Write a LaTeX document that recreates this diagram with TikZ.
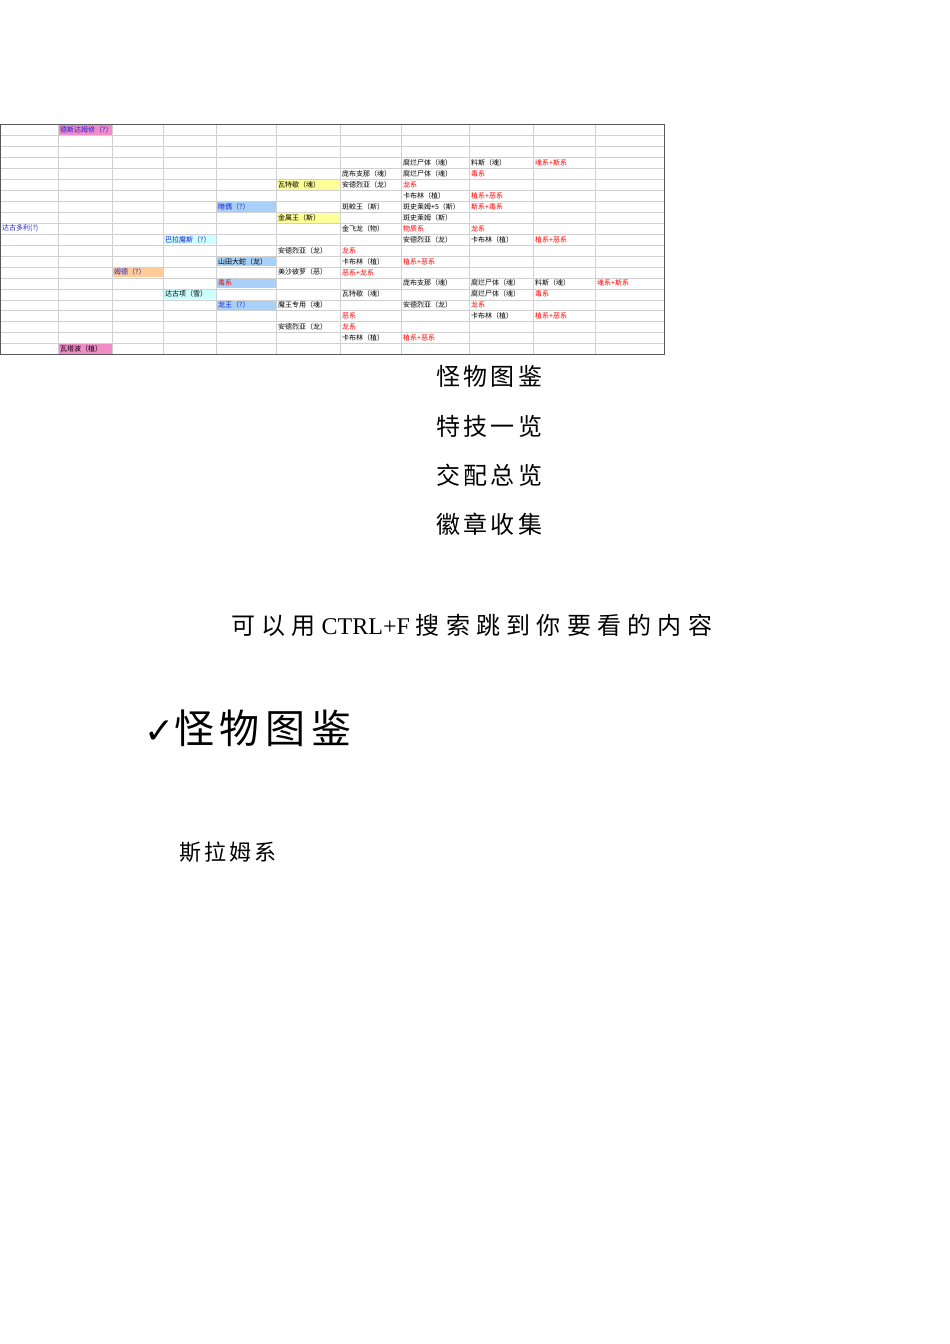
\documentclass[tikz,border=0pt]{standalone}
\usepackage{fontspec}
\newfontfamily\cjk{Noto Sans CJK SC}
\newfontfamily\cjkls[LetterSpace=14]{Noto Sans CJK SC}
\newfontfamily\cjklw[LetterSpace=26]{Noto Sans CJK SC}
\setmainfont{Liberation Serif}
\newfontfamily\djvs{DejaVu Sans}
\definecolor{pk}{HTML}{F08CC8}
\definecolor{lb}{HTML}{A8D0F8}
\definecolor{yl}{HTML}{FFFF99}
\definecolor{cy}{HTML}{CCFFFF}
\definecolor{og}{HTML}{FFCC99}
\definecolor{bt}{HTML}{2020D0}
\definecolor{gl}{HTML}{D0D0D0}
\tikzset{cell/.style={anchor=west,inner sep=1pt,font=\cjk\fontsize{7}{7}\selectfont}}
\newcommand{\cx}[1]{\ifcase#1 0\or58\or112\or163\or216\or276\or340\or401\or469\or533\or595\fi}
\newcommand{\cw}[1]{\ifcase#1 58\or54\or51\or53\or60\or64\or61\or68\or64\or62\or69\fi}
% \cell{row}{col}{text}{textcolor}{bg}
\newcommand{\cell}[5]{%
  \fill[#5] ({\cx{#2}+0.5},{124.5+10.95*#1+0.5}) rectangle ({\cx{#2}+\cw{#2}-0.5},{124.5+10.95*(#1+1)-0.5});
  \node[cell,text=#4] (c#1x#2) at ({\cx{#2}+1},{124.5+10.95*(#1+0.5)}) {#3};}
\begin{document}
\begin{tikzpicture}[x=1pt,y=-1pt]
\useasboundingbox (0,0) rectangle (950,1344);
\fill[white] (0,0) rectangle (950,1344);
\cell{0}{1}{德斯达姆修（?）}{bt}{pk}
\cell{3}{7}{腐烂尸体（魂）}{black}{white}
\cell{3}{8}{料斯（魂）}{black}{white}
\cell{3}{9}{魂系+斯系}{red}{white}
\cell{4}{6}{庞布支那（魂）}{black}{white}
\cell{4}{7}{腐烂尸体（魂）}{black}{white}
\cell{4}{8}{毒系}{red}{white}
\cell{5}{5}{瓦特歇（魂）}{black}{yl}
\cell{5}{6}{安德烈亚（龙）}{black}{white}
\cell{5}{7}{龙系}{red}{white}
\cell{6}{7}{卡布林（植）}{black}{white}
\cell{6}{8}{植系+恶系}{red}{white}
\cell{7}{4}{暗偶（?）}{bt}{lb}
\cell{7}{6}{斑鲛王（斯）}{black}{white}
\cell{7}{7}{斑史莱姆+5（斯）}{black}{white}
\cell{7}{8}{斯系+毒系}{red}{white}
\cell{8}{5}{金属王（斯）}{black}{yl}
\cell{8}{7}{斑史莱姆（斯）}{black}{white}
\cell{9}{0}{达古多利(?)}{bt}{white}
\cell{9}{6}{金飞龙（物）}{black}{white}
\cell{9}{7}{物质系}{red}{white}
\cell{9}{8}{龙系}{red}{white}
\cell{10}{3}{巴拉魔斯（?）}{bt}{cy}
\cell{10}{7}{安德烈亚（龙）}{black}{white}
\cell{10}{8}{卡布林（植）}{black}{white}
\cell{10}{9}{植系+恶系}{red}{white}
\cell{11}{5}{安德烈亚（龙）}{black}{white}
\cell{11}{6}{龙系}{red}{white}
\cell{12}{4}{山田大蛇（龙）}{black}{lb}
\cell{12}{6}{卡布林（植）}{black}{white}
\cell{12}{7}{植系+恶系}{red}{white}
\cell{13}{2}{姆德（?）}{bt}{og}
\cell{13}{5}{美沙彼罗（恶）}{black}{white}
\cell{13}{6}{恶系+龙系}{red}{white}
\cell{14}{4}{毒系}{red}{lb}
\cell{14}{7}{庞布支那（魂）}{black}{white}
\cell{14}{8}{腐烂尸体（魂）}{black}{white}
\cell{14}{9}{料斯（魂）}{black}{white}
\cell{14}{10}{魂系+斯系}{red}{white}
\cell{15}{3}{达古项（雪）}{black}{cy}
\cell{15}{6}{瓦特歇（魂）}{black}{white}
\cell{15}{8}{腐烂尸体（魂）}{black}{white}
\cell{15}{9}{毒系}{red}{white}
\cell{16}{4}{龙王（?）}{bt}{lb}
\cell{16}{5}{魔王专用（魂）}{black}{white}
\cell{16}{7}{安德烈亚（龙）}{black}{white}
\cell{16}{8}{龙系}{red}{white}
\cell{17}{6}{恶系}{red}{white}
\cell{17}{8}{卡布林（植）}{black}{white}
\cell{17}{9}{植系+恶系}{red}{white}
\cell{18}{5}{安德烈亚（龙）}{black}{white}
\cell{18}{6}{龙系}{red}{white}
\cell{19}{6}{卡布林（植）}{black}{white}
\cell{19}{7}{植系+恶系}{red}{white}
\cell{20}{1}{瓦塔波（植）}{black}{pk}
% grid
\foreach \k in {1,...,20} \draw[gl,line width=0.4pt] (0,{124.5+10.95*\k}) -- (664,{124.5+10.95*\k});
\foreach \x in {58,112,163,216,276,340,401,469,533,595} \draw[gl,line width=0.6pt] (\x,124.5) -- (\x,354.5);
\draw[gray!70!black,line width=0.8pt] (0,124.5) rectangle (664,354.5);
% text
\tikzset{menu/.style={anchor=west,inner sep=0pt,font=\cjkls\fontsize{24}{24}\selectfont}}
\node[menu] (m1) at (436,376) {怪物图鉴};
\node[menu] (m2) at (436,426) {特技一览};
\node[menu] (m3) at (436,475) {交配总览};
\node[menu] (m4) at (436,524) {徽章收集};
\node[anchor=west,inner sep=0pt,font=\fontsize{24}{24}\selectfont] (s) at (231,625) {{\cjklw 可以用} CTRL+F {\cjklw 搜索跳到你要看的内容}};
\node[anchor=west,inner sep=0pt,font=\fontsize{40}{40}\selectfont] (h) at (144,728) {{\djvs\fontsize{36}{36}\selectfont ✓}{\cjkls 怪物图鉴}};
\node[anchor=west,inner sep=0pt,font=\cjkls\fontsize{22}{22}\selectfont] (sl) at (179,852) {斯拉姆系};
\end{tikzpicture}
\end{document}
